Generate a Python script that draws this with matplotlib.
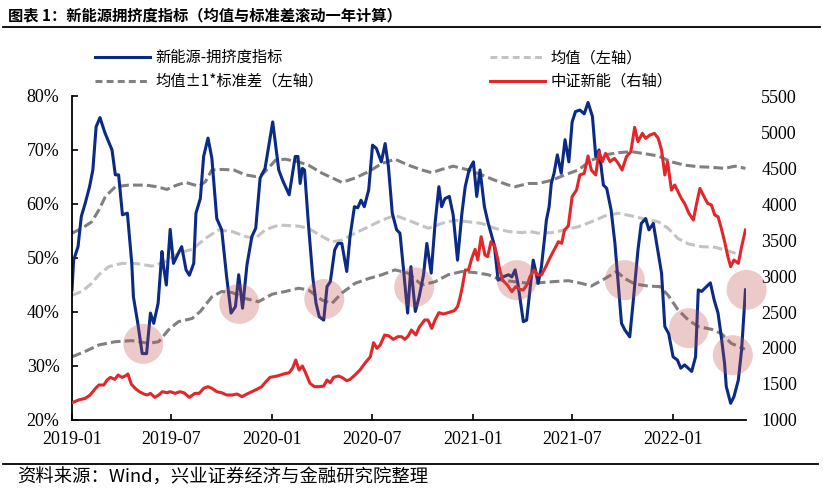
import numpy as np
import pandas as pd
import matplotlib
matplotlib.use("Agg")
import matplotlib.pyplot as plt
import matplotlib.dates as mdates
import matplotlib.ticker as mticker
from matplotlib.lines import Line2D

plt.rcParams['lines.scale_dashes'] = False
plt.rcParams['font.family'] = ["Liberation Serif", "DejaVu Serif"]

# ---------------- data (days since 2019-01-01) ----------------
BASE = "2019-01-01"

blue_day = [0, 3, 11, 17, 24, 32, 38, 44, 51, 60, 73, 79, 85, 92, 101, 109, 112, 120, 128, 136, 143, 149, 157, 164,
            167, 172, 179, 185, 194, 200, 208, 214, 222, 226, 234, 240, 248, 255, 264, 273, 282, 290, 298, 304, 311,
            319, 328, 335, 343, 352, 366, 377, 384, 396, 407, 412, 416, 420, 424, 431, 439, 445, 451, 459, 465, 471,
            479, 485, 492, 501, 507, 515, 521, 527, 533, 541, 548, 555, 564, 571, 577, 584, 592, 598, 604, 612, 618,
            626, 633, 641, 647, 655, 662, 669, 674, 680, 688, 695, 703, 711, 717, 724, 732, 738, 744, 752, 759, 770,
            777, 786, 796, 802, 808, 813, 819, 823, 829, 835, 841, 845, 850, 856, 862, 865, 870, 874, 879, 885, 892,
            899, 906, 912, 918, 926, 934, 941, 949, 955, 961, 969, 975, 983, 990, 996, 1002, 1008, 1017, 1023, 1032,
            1038, 1046, 1052, 1060, 1068, 1075, 1081, 1088, 1096, 1104, 1110, 1117, 1130, 1137, 1142, 1148, 1157,
            1164, 1171, 1178, 1184, 1190, 1193, 1201, 1207, 1215, 1221, 1228]
blue_val = [44.1, 49.6, 52.1, 57.7, 60.1, 63.2, 66.3, 74.3, 76.0, 73.2, 70.0, 65.4, 65.4, 58.0, 58.3, 49.0, 42.8, 37.9,
            32.3, 32.3, 39.8, 37.9, 41.6, 51.2, 48.4, 45.0, 55.3, 49.0, 50.9, 52.1, 47.8, 46.8, 49.0, 58.3, 61.0, 68.8,
            72.2, 68.5, 57.3, 55.2, 46.5, 39.8, 41.0, 46.9, 40.7, 48.7, 54.0, 55.5, 64.8, 66.6, 75.2, 66.3, 64.4, 61.7,
            68.8, 68.8, 63.8, 66.6, 66.3, 56.4, 46.5, 41.6, 39.1, 38.5, 44.7, 45.6, 51.5, 52.7, 52.7, 47.5, 54.0, 59.5,
            59.3, 60.7, 59.5, 62.6, 70.9, 70.3, 67.8, 71.2, 66.9, 58.3, 55.2, 54.6, 48.4, 39.8, 48.4, 40.1, 42.8, 46.9,
            52.7, 47.2, 56.4, 63.2, 59.5, 61.0, 61.4, 58.0, 49.6, 58.3, 63.2, 66.3, 67.8, 61.4, 66.3, 59.5, 56.4, 52.4,
            45.9, 46.5, 46.9, 46.5, 47.8, 45.3, 41.0, 38.2, 38.5, 44.1, 49.6, 47.8, 45.3, 48.4, 54.0, 57.0, 59.5, 63.8,
            65.7, 69.1, 65.7, 71.9, 67.8, 75.2, 77.1, 77.4, 76.7, 78.8, 76.2, 68.8, 70.0, 63.5, 62.9, 58.9, 52.7, 45.3,
            37.9, 36.7, 35.4, 41.6, 51.5, 56.4, 57.3, 55.2, 56.4, 51.5, 47.2, 37.3, 36.0, 31.7, 31.1, 29.6, 30.2, 29.0,
            31.7, 44.1, 43.8, 44.7, 45.4, 42.2, 39.8, 35.4, 30.4, 26.2, 23.1, 24.3, 27.4, 33.0, 44.1]

red_day = [0, 12, 24, 33, 43, 49, 58, 64, 70, 78, 84, 91, 97, 102, 108, 115, 123, 131, 137, 143, 151, 158, 165, 173,
           179, 188, 197, 204, 214, 224, 232, 240, 248, 255, 264, 273, 282, 292, 301, 310, 319, 328, 337, 346, 352,
           361, 374, 386, 396, 402, 408, 414, 420, 425, 434, 442, 452, 459, 465, 471, 477, 486, 492, 501, 507, 516,
           525, 534, 544, 550, 556, 562, 570, 577, 586, 594, 601, 607, 613, 619, 627, 633, 643, 649, 656, 662, 669,
           677, 686, 697, 703, 708, 712, 717, 723, 729, 735, 740, 746, 753, 758, 764, 771, 776, 780, 786, 794, 802,
           809, 817, 823, 831, 835, 843, 849, 856, 864, 871, 879, 887, 893, 898, 905, 912, 920, 926, 934, 941, 947,
           955, 961, 967, 973, 981, 989, 996, 1003, 1011, 1019, 1026, 1032, 1040, 1046, 1054, 1062, 1069, 1075, 1081,
           1086, 1093, 1099, 1105, 1111, 1117, 1125, 1133, 1139, 1145, 1151, 1159, 1166, 1172, 1178, 1184, 1190,
           1196, 1201, 1207, 1215, 1221, 1228]
red_val = [1240, 1278, 1300, 1347, 1440, 1486, 1486, 1555, 1592, 1564, 1625, 1592, 1611, 1639, 1500, 1440, 1393, 1361,
           1347, 1370, 1314, 1347, 1393, 1379, 1393, 1370, 1393, 1379, 1314, 1370, 1370, 1440, 1463, 1440, 1393, 1379,
           1347, 1347, 1361, 1324, 1361, 1393, 1426, 1463, 1518, 1592, 1611, 1639, 1657, 1717, 1833, 1694, 1750, 1671,
           1509, 1463, 1463, 1472, 1555, 1518, 1592, 1611, 1592, 1546, 1564, 1625, 1694, 1787, 1879, 2074, 1995, 2041,
           2180, 2171, 2120, 2157, 2157, 2120, 2166, 2250, 2180, 2287, 2389, 2389, 2273, 2389, 2491, 2472, 2491, 2518,
           2574, 2713, 2861, 3083, 3083, 3245, 3370, 3222, 3546, 3292, 3268, 3477, 3407, 3245, 3083, 2935, 2875, 2782,
           2852, 2815, 2805, 2898, 2991, 3083, 3014, 3014, 3130, 3245, 3361, 3477, 3454, 3639, 3694, 4102, 4194, 4403,
           4426, 4667, 4472, 4403, 4727, 4588, 4704, 4588, 4634, 4565, 4472, 4657, 4727, 5065, 4866, 4981, 4912, 4958,
           4981, 4912, 4750, 4403, 4588, 4194, 4264, 4171, 4079, 4009, 3870, 3778, 4009, 4217, 4125, 4009, 3986, 3847,
           3824, 3662, 3477, 3268, 3130, 3222, 3176, 3407, 3639]

upper_day = [0, 18, 36, 49, 61, 79, 103, 134, 155, 173, 191, 207, 231, 243, 255, 273, 295, 316, 334, 346, 355, 371,
             389, 413, 431, 456, 492, 516, 541, 565, 589, 613, 638, 656, 674, 695, 723, 747, 771, 796, 808, 832, 850,
             875, 899, 923, 947, 972, 996, 1020, 1045, 1069, 1093, 1117, 1142, 1166, 1190, 1209, 1228]
upper_val = [54.6, 55.5, 56.7, 58.9, 61.4, 63.2, 63.5, 63.5, 63.2, 62.7, 63.5, 64.0, 63.3, 64.1, 66.3, 66.4, 66.3,
             65.4, 65.1, 65.4, 66.3, 68.1, 68.3, 67.8, 67.2, 65.7, 64.0, 64.8, 66.0, 67.5, 68.3, 67.2, 66.3, 65.8,
             66.4, 67.0, 66.3, 65.4, 64.4, 63.5, 63.2, 63.8, 63.8, 64.4, 65.4, 66.3, 68.1, 69.1, 69.5, 69.7, 69.3,
             68.9, 67.8, 67.2, 66.9, 66.8, 66.6, 67.0, 66.6]

mean_day = [0, 18, 36, 49, 67, 91, 115, 146, 170, 194, 219, 243, 267, 292, 316, 334, 352, 377, 413, 431, 456, 474,
            492, 516, 541, 565, 589, 613, 650, 674, 698, 723, 747, 771, 796, 820, 835, 850, 875, 899, 923, 947, 972,
            996, 1020, 1045, 1069, 1087, 1105, 1124, 1148, 1172, 1190, 1209, 1221]
mean_val = [43.1, 43.8, 45.3, 46.9, 48.4, 49.0, 49.0, 48.5, 49.3, 50.9, 51.6, 53.6, 55.2, 54.9, 54.0, 53.6, 55.2,
            56.1, 55.9, 55.5, 54.0, 53.0, 53.3, 54.6, 55.8, 57.0, 57.9, 57.0, 55.5, 56.4, 57.0, 56.7, 56.4, 55.5,
            54.9, 54.7, 54.9, 54.6, 54.7, 55.2, 55.8, 56.7, 57.8, 58.3, 57.8, 57.2, 56.7, 55.5, 53.6, 52.6, 52.1,
            52.0, 51.5, 50.9, 50.2]

lower_day = [0, 24, 49, 79, 109, 140, 158, 176, 194, 219, 234, 255, 273, 292, 316, 340, 365, 389, 413, 431, 456, 474,
             492, 516, 541, 565, 589, 613, 638, 662, 686, 711, 735, 759, 783, 808, 835, 850, 875, 905, 929, 947, 972,
             993, 1008, 1026, 1051, 1072, 1087, 1105, 1124, 1142, 1166, 1184, 1202, 1227]
lower_val = [31.7, 32.7, 33.9, 34.5, 34.7, 34.2, 34.5, 36.7, 38.2, 38.8, 40.1, 42.8, 43.8, 43.6, 42.5, 41.9, 43.3,
             43.8, 44.4, 44.1, 42.2, 41.6, 43.5, 45.3, 46.2, 46.9, 47.8, 47.2, 45.0, 45.6, 46.9, 47.5, 47.3, 46.9,
             45.9, 45.6, 45.3, 45.4, 45.6, 45.8, 45.3, 44.8, 46.2, 47.5, 46.2, 45.2, 44.8, 44.7, 43.1, 40.4, 38.5,
             37.3, 36.8, 36.0, 34.2, 33.1]

circle_day = [130, 305, 460, 624, 811, 1008, 1125, 1205, 1230]
circle_val = [34.1, 41.5, 42.4, 44.6, 45.9, 45.9, 37.0, 32.0, 44.1]

left_ticks = [20, 30, 40, 50, 60, 70, 80]
right_ticks = [1000, 1500, 2000, 2500, 3000, 3500, 4000, 4500, 5000, 5500]

labels = ["新能源-拥挤度指标", "均值±1*标准差（左轴）", "均值（左轴）", "中证新能（右轴）"]
title = "图表 1：新能源拥挤度指标（均值与标准差滚动一年计算）"
source = "资料来源：Wind，兴业证券经济与金融研究院整理"


def to_dates(days):
    return pd.Timestamp(BASE) + pd.to_timedelta(np.asarray(days), unit="D")


# ---------------- styles ----------------
C_BLUE = "#0A2A86"
C_RED = "#E3262A"
C_DGREY = "#808080"
C_LGREY = "#C3C3C3"
LW = 2.2
DASH = (7, 3)
CJK = ["Noto Sans CJK SC", "DejaVu Sans"]

W, H = 823, 491
fig = plt.figure(figsize=(W / 100, H / 100), dpi=100)
ax = fig.add_axes([72 / W, 71 / H, (746 - 72) / W, 324 / H])
ax2 = ax.twinx()

ax.plot(to_dates(upper_day), upper_val, color=C_DGREY, lw=LW, dashes=DASH)
ax.plot(to_dates(lower_day), lower_val, color=C_DGREY, lw=LW, dashes=DASH)
ax.plot(to_dates(mean_day), mean_val, color=C_LGREY, lw=LW, dashes=DASH)
ax.plot(to_dates(blue_day), blue_val, color=C_BLUE, lw=LW, solid_joinstyle="round")
ax2.plot(to_dates(red_day), red_val, color=C_RED, lw=LW, solid_joinstyle="round")

# highlight circles (on top, in left-axis data units)
ax2.scatter(to_dates(circle_day), circle_val, s=830, color="#C0504D", alpha=0.3,
            edgecolors="none", transform=ax.transData, zorder=10, clip_on=False)

ax.set_xlim(pd.Timestamp(BASE), pd.Timestamp(BASE) + pd.Timedelta(days=1229))
ax.set_ylim(20, 80)
ax2.set_ylim(1000, 5500)
ax.set_yticks(left_ticks)
ax.yaxis.set_major_formatter(mticker.FuncFormatter(lambda v, p: f"{v:.0f}%"))
ax2.set_yticks(right_ticks)

ax.xaxis.set_major_locator(mdates.MonthLocator(bymonth=[1, 7]))
ax.xaxis.set_major_formatter(mdates.DateFormatter("%Y-%m"))

for a in (ax, ax2):
    for s in ("top", "right"):
        a.spines[s].set_visible(False)
ax2.spines["left"].set_visible(False)
ax2.spines["bottom"].set_visible(False)
ax.spines["left"].set_linewidth(1.3)
ax.spines["bottom"].set_linewidth(1.3)

ax.tick_params(axis="y", direction="in", length=4, width=1.2, pad=9, labelsize=13)
ax.tick_params(axis="x", direction="in", length=4, width=1.2, pad=8, labelsize=13)
ax2.tick_params(axis="y", length=0, pad=11, labelsize=13)

# legends
h_blue = Line2D([], [], color=C_BLUE, lw=LW)
h_dg = Line2D([], [], color=C_DGREY, lw=LW, dashes=(5, 3))
h_lg = Line2D([], [], color=C_LGREY, lw=LW, dashes=(5, 3))
h_red = Line2D([], [], color=C_RED, lw=LW)
common = dict(frameon=False, loc="center left", borderpad=0, borderaxespad=0,
              handlelength=3.6, handletextpad=0.35, labelspacing=0.45,
              prop={"family": CJK, "size": 11})
leg1 = fig.legend([h_blue, h_dg], labels[:2], bbox_to_anchor=(95 / W, 1 - 69.5 / H), **common)
leg2 = fig.legend([h_lg, h_red], labels[2:], bbox_to_anchor=(490 / W, 1 - 69.5 / H), **common)

# title and source
fig.text(8 / W, 1 - 15 / H, title, ha="left", va="center", fontsize=11, fontweight="bold", family=CJK)
fig.add_artist(Line2D([3 / W, 820 / W], [1 - 27 / H, 1 - 27 / H], color="black", lw=1.3))
fig.add_artist(Line2D([3 / W, 818 / W], [1 - 464 / H, 1 - 464 / H], color="black", lw=1.3))
fig.text(17 / W, 1 - 478 / H, source, ha="left", va="center", fontsize=13.2, family=CJK)

fig.savefig("out.png", dpi=100)
